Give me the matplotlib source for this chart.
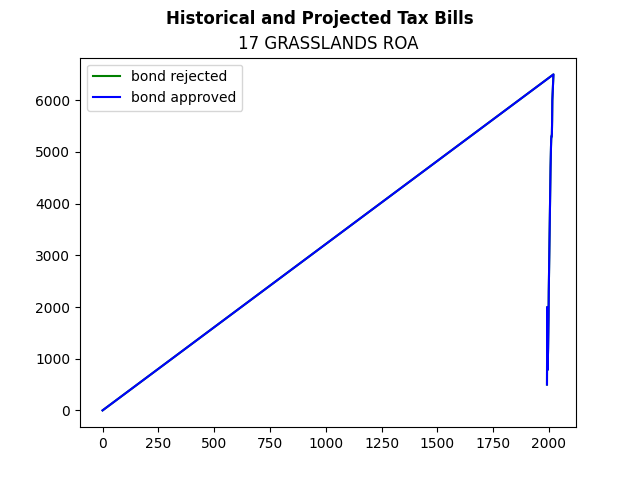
import matplotlib
matplotlib.use("Agg")
import matplotlib.pyplot as plt

# tax bill history (years) plus a trailing (0, 0) point as in the source data
years = [1991, 1992, 1993, 1994, 1995, 1996, 1997, 1998, 1999, 2000,
         2001, 2002, 2003, 2004, 2005, 2006, 2007, 2008, 2009, 2010,
         2011, 2012, 2013, 2014, 2015, 2016, 2017, 2018, 2019, 2020, 0]
bills_rejected = [500, 2000, 780, 900, 1000, 1200, 1500, 1800, 2300, 2600,
                  2900, 3200, 3500, 3800, 4100, 4400, 4700, 4900, 5100, 5250,
                  5300, 5300, 5350, 5600, 6000, 6100, 6200, 6300, 6400, 6500, 0]
bills_approved = [500, 2000, 780, 900, 1000, 1200, 1500, 1800, 2300, 2600,
                  2900, 3200, 3500, 3800, 4100, 4400, 4700, 4900, 5100, 5250,
                  5300, 5300, 5350, 5600, 6000, 6100, 6200, 6300, 6400, 6500, 0]

fig, ax = plt.subplots(figsize=(6.4, 4.8), dpi=100)
fig.suptitle("Historical and Projected Tax Bills", fontweight="bold")
ax.set_title("17 GRASSLANDS ROA")

ax.plot(years, bills_rejected, color="green", label="bond rejected")
ax.plot(years, bills_approved, color="blue", label="bond approved")

ax.legend(loc="upper left")

fig.savefig("out.png")
